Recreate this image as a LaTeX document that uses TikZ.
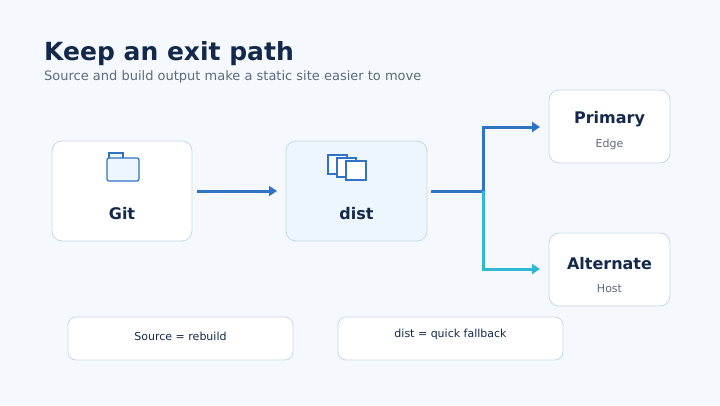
\documentclass[tikz,border=0pt]{standalone}
\usepackage{fontspec}
\setmainfont{DejaVu Sans}
\usetikzlibrary{arrows.meta}
\definecolor{bg}{HTML}{F5F9FD}
\definecolor{navy}{HTML}{14284B}
\definecolor{sub}{HTML}{5E6A7A}
\definecolor{bord}{HTML}{C9DAE8}
\definecolor{blu}{HTML}{2F72C6}
\definecolor{cya}{HTML}{33B6D4}
\definecolor{lfill}{HTML}{EDF6FC}
\begin{document}
\begin{tikzpicture}[x=1pt,y=-1pt,
  box/.style={draw=bord,line width=0.9pt,fill=white,rounded corners=10pt,inner sep=0},
  lab/.style={text=navy,font=\fontsize{16}{18}\selectfont\bfseries},
  small/.style={text=sub,font=\fontsize{11}{13}\selectfont},
  note/.style={text=navy,font=\fontsize{11}{13}\selectfont},
  con/.style={line width=3pt,-{Triangle[length=8pt,width=10pt]}}]
\fill[bg] (0,0) rectangle (720,405);
\useasboundingbox (0,0) rectangle (720,405);
\node[anchor=base west,inner sep=0,text=navy,font=\fontsize{25}{29}\selectfont\bfseries] (title) at (44,60) {Keep an exit path};
\node[anchor=base west,inner sep=0,text=sub,font=\fontsize{13}{15}\selectfont] (subt) at (44,80) {Source and build output make a static site easier to move};
% boxes
\draw[box] (52,141) rectangle (192,241);
\node[minimum width=140pt,minimum height=100pt] (git) at (122,191) {};
\draw[box,fill=lfill] (286,141) rectangle (427,241);
\node[minimum width=141pt,minimum height=100pt] (dist) at (356.5,191) {};
\draw[box] (549,90) rectangle (670,163);
\node[minimum width=121pt,minimum height=73pt] (prim) at (609.5,126.5) {};
\draw[box] (549,233) rectangle (670,306);
\node[minimum width=121pt,minimum height=73pt] (alt) at (609.5,269.5) {};
\draw[box,rounded corners=8pt] (68,317) rectangle (293,360);
\draw[box,rounded corners=8pt] (338,317) rectangle (563,360);
% labels
\node[lab] (gitl) at (122,214) {Git};
\node[lab] (distl) at (356.5,214) {dist};
\node[lab] (priml) at (609.5,119) {Primary};
\node[small] (edge) at (609.5,144) {Edge};
\node[lab] (altl) at (609.5,264) {Alternate};
\node[small] (host) at (609.5,289) {Host};
\node[note] (n1) at (180.5,336) {Source = rebuild};
\node[note] (n2) at (450.5,334) {dist = quick fallback};
% icons
\draw[blu,line width=1.2pt,fill=lfill] (109,153) rectangle (123,159);
\draw[blu,line width=1.2pt,fill=lfill,rounded corners=2pt] (107,158) rectangle (139,181);
\draw[blu,line width=1.2pt,fill=white] (328,155) rectangle (347,174);
\draw[blu,line width=1.2pt,fill=white] (337,158) rectangle (356,177);
\draw[blu,line width=1.2pt,fill=white] (346,161) rectangle (366,180);
% connectors
\coordinate (j) at (483,191);
\draw[con,blu] (197,191) -- (277,191);
\draw[blu,line width=3pt] (431,191) -- (j);
\draw[con,blu] (j) -- (483,127) -- (540,127);
\draw[con,cya] (j) -- (483,269) -- (540,269);
\end{tikzpicture}
\end{document}
